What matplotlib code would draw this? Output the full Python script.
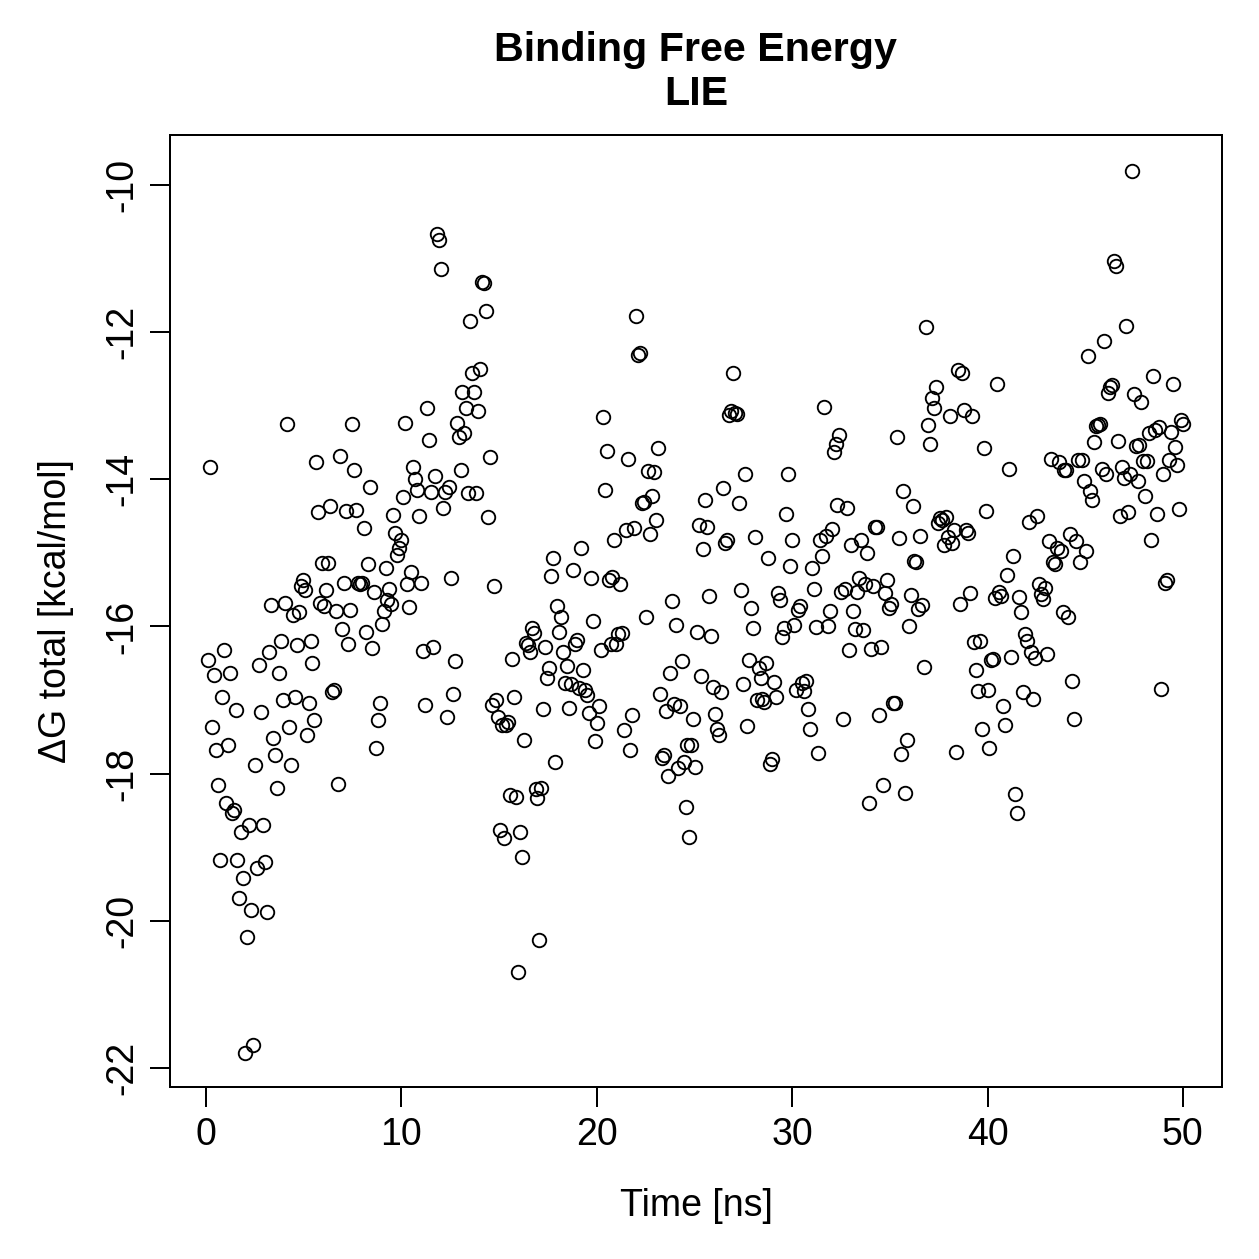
import numpy as np
import matplotlib
matplotlib.use('Agg')
import matplotlib.pyplot as plt

plt.rcParams['font.family'] = ['Liberation Sans', 'DejaVu Sans']
plt.rcParams['axes.unicode_minus'] = False

# LIE binding free energy (kcal/mol), one frame every 0.1 ns
dg = [
    -16.46, -13.83, -17.37, -16.66, -17.68, -18.15, -19.17, -16.96, -16.32, -18.40,
    -17.61, -16.63, -18.53, -18.49, -17.13, -19.17, -19.69, -18.79, -19.42, -21.80,
    -20.22, -18.70, -19.85, -21.69, -17.88, -19.28, -16.52, -17.16, -18.70, -19.20,
    -19.88, -16.35, -15.71, -17.52, -17.75, -18.19, -16.63, -16.20, -17.00, -15.68,
    -13.25, -17.37, -17.88, -15.84, -16.96, -16.25, -15.80, -15.45, -15.37, -15.50,
    -17.47, -17.04, -16.20, -16.50, -17.27, -13.76, -14.44, -15.68, -15.14, -15.72,
    -15.50, -15.14, -14.36, -16.89, -16.86, -15.79, -18.14, -13.68, -16.03, -15.41,
    -14.43, -16.24, -15.78, -13.25, -13.87, -14.42, -15.41, -15.42, -15.41, -14.66,
    -16.07, -15.15, -14.10, -16.29, -15.53, -17.65, -17.27, -17.04, -15.97, -15.79,
    -15.20, -15.64, -15.49, -15.69, -14.48, -14.73, -15.03, -14.93, -14.82, -14.24,
    -13.23, -15.42, -15.73, -15.26, -13.83, -14.00, -14.14, -14.50, -15.41, -16.33,
    -17.07, -13.03, -13.47, -14.17, -16.28, -13.95, -10.67, -10.75, -11.14, -14.39,
    -14.17, -17.23, -14.10, -15.34, -16.92, -16.47, -13.23, -13.42, -13.87, -12.81,
    -13.37, -13.03, -14.19, -11.85, -12.55, -12.81, -14.19, -13.07, -12.50, -11.32,
    -11.33, -11.71, -14.51, -13.70, -17.07, -15.45, -17.00, -17.23, -18.77, -17.34,
    -18.87, -17.34, -17.30, -18.29, -16.44, -16.96, -18.32, -20.70, -18.79, -19.13,
    -17.54, -16.22, -16.25, -16.35, -16.02, -16.09, -18.21, -18.33, -20.26, -18.19,
    -17.12, -16.28, -16.70, -16.56, -15.31, -15.07, -17.84, -15.72, -16.07, -15.87,
    -16.35, -16.77, -16.54, -17.11, -16.78, -15.23, -16.24, -16.18, -16.84, -14.93,
    -16.59, -16.86, -16.93, -17.18, -15.34, -15.93, -17.56, -17.31, -17.08, -16.32,
    -13.15, -14.14, -13.62, -15.37, -16.24, -15.33, -14.82, -16.24, -16.10, -15.42,
    -16.09, -17.41, -14.69, -13.72, -17.68, -17.20, -14.66, -11.78, -12.31, -12.28,
    -14.32, -14.31, -15.87, -13.89, -14.74, -14.23, -13.90, -14.55, -13.57, -16.92,
    -17.79, -17.75, -17.15, -18.03, -16.63, -15.65, -17.05, -15.98, -17.92, -17.08,
    -16.47, -17.84, -18.45, -17.61, -18.86, -17.61, -17.26, -17.91, -16.07, -14.62,
    -16.67, -14.95, -14.28, -14.65, -15.59, -16.13, -16.82, -17.19, -17.39, -17.47,
    -16.89, -14.12, -14.87, -14.82, -13.13, -13.07, -12.55, -13.10, -13.11, -14.32,
    -15.50, -16.78, -13.93, -17.35, -16.46, -15.75, -16.02, -14.78, -17.00, -16.56,
    -16.70, -16.99, -17.03, -16.50, -15.07, -17.87, -17.80, -16.75, -16.96, -15.54,
    -15.64, -16.14, -16.02, -14.47, -13.93, -15.18, -14.82, -15.98, -16.86, -15.78,
    -15.72, -16.77, -16.88, -16.74, -17.12, -17.39, -15.20, -15.49, -16.01, -17.72,
    -14.82, -15.04, -13.02, -14.77, -15.99, -15.79, -14.68, -13.63, -13.52, -14.35,
    -13.40, -15.53, -17.26, -15.49, -14.39, -16.32, -14.89, -15.79, -16.03, -15.53,
    -15.34, -14.82, -16.05, -15.42, -15.00, -18.40, -16.31, -15.45, -14.65, -14.65,
    -17.20, -16.28, -18.15, -15.54, -15.37, -15.75, -15.69, -17.04, -17.04, -13.42,
    -14.80, -17.73, -14.16, -18.26, -17.54, -15.99, -15.57, -14.36, -15.11, -15.12,
    -15.76, -14.77, -15.71, -16.55, -11.93, -13.26, -13.52, -12.89, -13.03, -12.75,
    -14.59, -14.53, -14.55, -14.89, -14.51, -14.78, -13.14, -14.87, -14.69, -17.71,
    -12.51, -15.69, -12.55, -13.06, -14.69, -14.73, -15.54, -13.14, -16.21, -16.59,
    -16.88, -16.20, -17.39, -13.57, -14.43, -16.86, -17.65, -16.46, -16.44, -15.61,
    -12.70, -15.53, -15.59, -17.08, -17.34, -15.30, -13.86, -16.41, -15.04, -18.28,
    -18.53, -15.60, -15.80, -16.89, -16.10, -16.20, -14.58, -16.35, -16.99, -16.43,
    -14.50, -15.42, -15.56, -15.63, -15.48, -16.37, -14.84, -13.72, -15.12, -15.15,
    -14.93, -13.76, -14.97, -15.80, -13.87, -13.87, -15.87, -14.74, -16.74, -17.26,
    -14.84, -13.74, -15.12, -13.74, -14.02, -14.97, -12.32, -14.16, -14.28, -13.49,
    -13.28, -13.26, -13.25, -13.86, -12.12, -13.93, -12.83, -12.75, -12.72, -11.03,
    -11.10, -13.48, -14.50, -13.83, -13.98, -11.92, -14.44, -13.93, -9.81, -12.84,
    -13.55, -14.02, -13.53, -12.95, -13.75, -14.23, -13.75, -13.37, -14.82, -12.60,
    -13.33, -14.47, -13.29, -16.85, -13.93, -15.41, -15.37, -13.74, -13.36, -12.70,
    -13.56, -13.81, -14.40, -13.19, -13.25,
]
# sampling grid of the trajectory (ns)
time = np.linspace(0.1, 50.0, len(dg))

fig = plt.figure(figsize=(1259 / 180, 1259 / 180), dpi=180)
ax = fig.add_axes([0.135, 0.1366, 0.8356, 0.7562])

ax.plot(time, dg, ls='none', marker='o', markersize=5.4,
        markerfacecolor='none', markeredgecolor='black', markeredgewidth=0.75)

ax.set_xlim(-1.84, 52.0)
ax.set_ylim(-22.26, -9.32)
ax.set_xticks([0, 10, 20, 30, 40, 50])
ax.set_yticks([-22, -20, -18, -16, -14, -12, -10])
ax.tick_params(direction='out', length=8, width=0.8, labelsize=15, pad=4)
for lab in ax.get_yticklabels():
    lab.set_rotation(90)
    lab.set_va('center')
for s in ax.spines.values():
    s.set_linewidth(0.8)

ax.set_xlabel('Time [ns]', fontsize=15, labelpad=14)
ax.set_ylabel('\u0394G total [kcal/mol]', fontsize=15, labelpad=12)
ax.set_title('Binding Free Energy\nLIE', fontsize=16.5, fontweight='bold', pad=12,
             linespacing=1.2)

plt.savefig('out.png', dpi=180)
